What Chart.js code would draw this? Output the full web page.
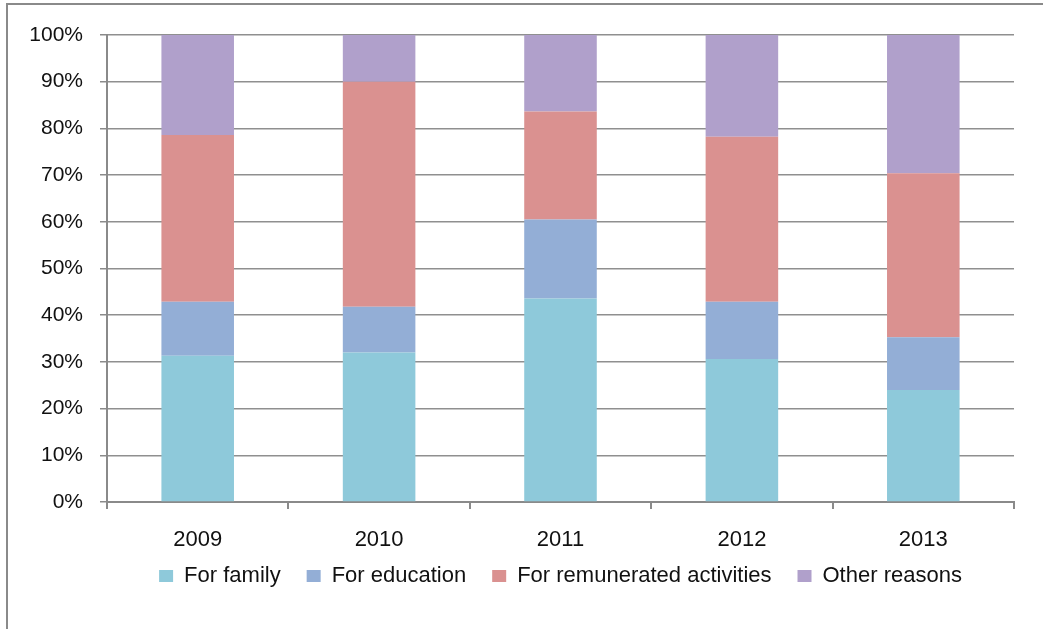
<!DOCTYPE html>
<html>
<head>
<meta charset="utf-8">
<script src="https://cdn.jsdelivr.net/npm/chart.js@4/dist/chart.umd.min.js"></script>
<style>
  html, body { margin: 0; padding: 0; background: #ffffff; }
  #wrap { position: relative; width: 1043px; height: 629px; overflow: hidden; }
  #frame { position: absolute; left: 6px; top: 3px; width: 1200px; height: 800px;
           border-top: 2px solid #8a8a8a; border-left: 2px solid #8a8a8a; }
  #c { position: absolute; left: 0; top: 0; }
</style>
</head>
<body>
<div id="wrap">
  <div id="frame"></div>
  <canvas id="c" width="1043" height="629"></canvas>
</div>
<script>
const categories = ['2009', '2010', '2011', '2012', '2013'];
const seriesNames = ['For family', 'For education', 'For remunerated activities', 'Other reasons'];
const forFamily = [31.3, 32.0, 43.6, 30.6, 24.0];
const forEducation = [11.6, 9.8, 16.9, 12.3, 11.3];
const forRemunerated = [35.7, 48.2, 23.1, 35.3, 35.1];
const otherReasons = [21.4, 10.0, 16.4, 21.8, 29.6];
const yTicks = [0, 10, 20, 30, 40, 50, 60, 70, 80, 90, 100];

const colors = ['#8ec9da', '#93aed6', '#da9190', '#b0a0cb'];
const seriesValues = [forFamily, forEducation, forRemunerated, otherReasons];

const FONT = "'Liberation Sans', Arial, sans-serif";

const legendShift = {
  id: 'legendShift',
  afterLayout(chart) {
    const lg = chart.legend;
    if (lg) {
      lg.top -= 23;
      lg.bottom -= 23;
    }
  }
};

new Chart(document.getElementById('c'), {
  type: 'bar',
  data: {
    labels: categories,
    datasets: seriesNames.map((name, i) => ({
      label: name,
      data: seriesValues[i],
      backgroundColor: colors[i],
      borderWidth: 0,
      barPercentage: 0.4,
      categoryPercentage: 1.0
    }))
  },
  plugins: [legendShift],
  options: {
    responsive: false,
    animation: false,
    events: [],
    layout: { padding: { left: 0, top: 35, right: 29, bottom: 9 } },
    plugins: {
      tooltip: { enabled: false },
      legend: {
        position: 'bottom',
        fullSize: false,
        labels: {
          boxWidth: 14,
          boxHeight: 12,
          padding: 26,
          color: '#111111',
          font: { family: FONT, size: 22 }
        }
      }
    },
    scales: {
      x: {
        stacked: true,
        offset: true,
        afterFit: (s) => { s.height = 60; },
        grid: {
          offset: true,
          drawOnChartArea: false,
          drawTicks: true,
          tickLength: 7,
          color: '#8a8a8a',
          lineWidth: 2
        },
        border: { display: true, color: '#8a8a8a', width: 2 },
        ticks: {
          color: '#111111',
          padding: 18,
          font: { family: FONT, size: 22 }
        }
      },
      y: {
        stacked: true,
        min: 0,
        max: 100,
        afterFit: (s) => { s.width = 107; },
        afterBuildTicks: (s) => { s.ticks = yTicks.map(v => ({ value: v })); },
        grid: {
          color: '#8f8f8f',
          lineWidth: 1.5,
          drawTicks: true,
          tickLength: 7,
          tickColor: '#8a8a8a'
        },
        border: { display: true, color: '#8a8a8a', width: 2 },
        ticks: {
          color: '#111111',
          padding: 17,
          font: { family: FONT, size: 21 },
          callback: (v) => v + '%'
        }
      }
    }
  }
});
</script>
</body>
</html>
